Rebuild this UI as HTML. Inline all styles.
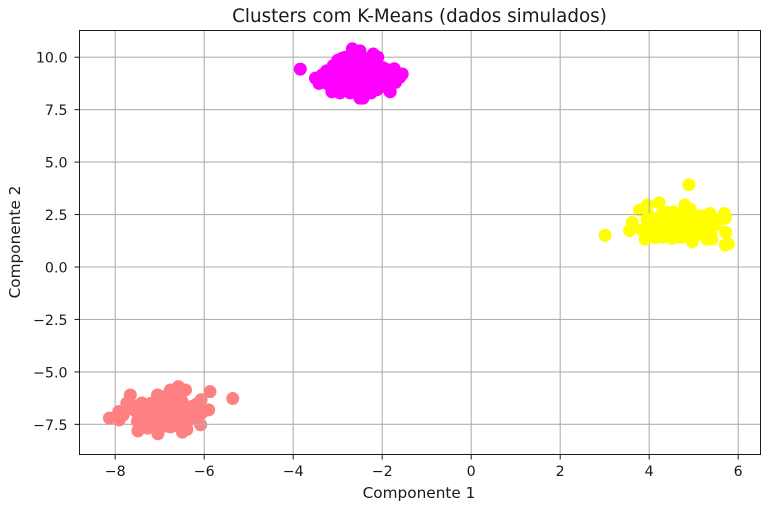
<!DOCTYPE html>
<html lang="pt">
<head>
<meta charset="utf-8">
<title>Clusters com K-Means</title>
<style>
html,body{margin:0;padding:0;background:#fff;width:770px;height:512px;overflow:hidden}
svg{display:block;font-family:"DejaVu Sans","Liberation Sans",sans-serif}
</style>
</head>
<body>
<svg id="chart" width="770" height="512" viewBox="0 0 770 512" xmlns="http://www.w3.org/2000/svg">
<rect width="770" height="512" fill="#fff"/>
<text x="419.5" y="22" font-size="18.3" text-anchor="middle" fill="#1a1a1a">Clusters com K-Means (dados simulados)</text>
<text x="419" y="498" font-size="15.3" text-anchor="middle" fill="#1a1a1a">Componente 1</text>
<text transform="translate(20 242) rotate(-90)" font-size="15.3" text-anchor="middle" fill="#1a1a1a">Componente 2</text>
<g id="under"></g>
<g id="grid"></g>
<g id="over"></g>
<g id="axes"></g>
</svg>
<script>
const xTicks = [-8, -6, -4, -2, 0, 2, 4, 6];
const yTicks = [-7.5, -5, -2.5, 0, 2.5, 5, 7.5, 10];
const xTickLabels = ['\u22128', '\u22126', '\u22124', '\u22122', '0', '2', '4', '6'];
const yTickLabels = ['\u22127.5', '\u22125.0', '\u22122.5', '0.0', '2.5', '5.0', '7.5', '10.0'];

const magentaX = [-3.84,-2.67,-2.5,-2.2,-2.1,-3.5,-3.35,-3.42,-3.13,-2.95,-2.72,-2.43,-2.5,-2.12,-1.82,-1.55,-1.6,-1.73,-1.7,-1.98,-3,-2.83,-3.1,-3.25,-2.9,-2.7,-2.5,-2.3,-2.1,-1.95,-3.05,-2.85,-2.65,-2.4,-2.2,-2.95,-2.75,-2.55,-2.35,-2.15,-1.9,-3.2,-2.8,-2.6,-2.3,-2.05,-2.9,-2.6,-2.4,-2.25,-2.0,-2.02,-2.08,-2.25,-2.62,-2.88,-3.05,-3.22,-2.45,-2.72,-1.85,-1.88,-2.2,-2.15,-2.35,-2.05,-2.3,-2.42,-2.18,-2.55,-2.1,-1.95,-2.5,-3.0,-2.8];
const magentaY = [9.43,10.4,10.3,10.15,10,9,9.15,8.75,8.35,8.3,8.3,8.05,8.05,8.45,8.35,9.2,9.05,9.45,8.8,9.5,9.85,10,9.6,9.35,9.6,9.7,9.8,9.65,9.55,9.1,9.15,9.2,9.3,9.25,9.2,8.75,8.8,8.85,8.7,8.9,8.75,8.9,8.5,8.55,8.45,8.65,9.95,10.02,9.95,9.9,9.28,8.92,8.6,8.3,8.6,8.55,8.62,8.72,8.38,8.95,9.15,9.4,9.0,8.75,8.95,9.0,8.6,8.5,8.5,8.3,8.8,8.6,9.45,9.0,9.45];

const yellowX = [3.78,3.96,3.98,4.22,3.56,3.62,3.84,3.91,3.01,4.89,4.13,4.51,4.65,4.97,5.3,5.41,5.72,5.71,5.78,5.69,5.71,5.52,5.36,4.8,4.92,4.54,4.39,4.28,5.15,4.2,4.35,4.5,4.7,4.85,5.05,5.25,5.4,4.25,4.45,4.65,4.85,5.05,5.2,5.35,4.1,4.3,4.55,4.75,4.95,5.1,4.6,4.05,4.15,4.4,4.58,4.72,4.9,5.0,5.18,5.32,5.48,5.55,4.22,4.38,4.62,4.82,5.02,5.28,4.12,4.3,4.0,3.95,4.18,4.32,4.48,4.68,4.78,4.98,5.12,5.22,5.38,4.42,4.88,5.08,4.08,5.42,4.52,4.72];
const yellowY = [2.71,2.95,2.48,3.06,1.73,2.13,1.76,1.32,1.51,3.92,1.4,1.37,1.43,1.2,1.33,1.33,1.65,1.05,1.1,2.55,2.32,2.24,2.55,2.95,2.76,2.63,2.59,2.48,2.44,2.25,2.3,2.35,2.4,2.2,2.3,2.25,2.15,1.9,1.95,2,1.95,1.9,1.85,1.8,1.7,1.6,1.65,1.55,1.6,1.55,2.5,2.05,2.12,2.12,2.22,2.1,2.4,2.12,2.1,2.02,1.98,2.2,1.75,1.82,1.78,1.72,1.74,1.62,1.95,1.42,1.6,2.25,1.52,1.98,1.55,1.85,2.25,1.88,2.0,1.78,1.58,2.18,1.48,1.72,2.3,1.92,2.1,1.42];

const pinkX = [-6.07,-6.08,-5.36,-5.87,-5.9,-6.28,-6.49,-6.39,-6.58,-6.76,-6.42,-6.91,-7.04,-7.49,-7.27,-7.66,-7.74,-7.92,-8.13,-7.91,-7.4,-7.2,-6.8,-7.05,-6.85,-6.65,-6.5,-7.3,-7.1,-6.9,-6.7,-6.55,-7.0,-6.75,-6.6,-7.35,-7.15,-6.95,-6.35,-6.2,-6.45,-7.25,-6.8,-6.15,-7.55,-6.65,-7.62,-7.48,-7.28,-7.42,-7.15,-6.98,-6.82,-6.62,-6.5,-6.72,-6.55,-6.42,-6.28,-6.12,-6.22,-6.4,-7.2,-7.0,-6.88,-6.7,-7.5,-7.82,-7.7,-6.95,-6.6,-7.38,-7.22,-7.05,-6.9,-6.75,-6.58,-6.45,-7.3,-7.12,-6.62,-6.52,-6.32,-6.18,-6.05,-7.44,-6.98,-6.85,-6.3,-7.58];
const pinkY = [-6.33,-7.52,-6.27,-5.94,-6.81,-6.65,-7.87,-7.74,-5.7,-5.86,-5.86,-6.18,-7.95,-7.81,-7.68,-6.1,-6.49,-6.89,-7.2,-7.29,-6.48,-6.5,-7.6,-6.1,-6.3,-6.25,-6.4,-6.95,-6.7,-6.6,-6.55,-6.8,-7.1,-7.0,-7.1,-7.25,-7.35,-7.4,-7.05,-6.9,-7.3,-6.75,-7.45,-6.6,-6.85,-7.55,-6.6,-7.0,-6.62,-6.82,-6.95,-6.82,-6.82,-6.85,-6.62,-6.22,-6.05,-7.2,-6.95,-6.75,-7.15,-7.5,-7.18,-7.3,-7.2,-7.28,-7.35,-7.05,-6.75,-6.5,-6.4,-7.1,-7.5,-7.55,-7.58,-7.62,-7.5,-7.45,-6.88,-6.6,-6.95,-7.15,-6.8,-6.55,-6.95,-6.55,-6.95,-6.45,-7.22,-6.7];

const plotLeft = 79.5, plotRight = 760.5, plotTop = 30.5, plotBottom = 454.5;
const NS = 'http://www.w3.org/2000/svg';

function xScale(v) { return 471.2 + v * 44.5; }
function yScale(v) { return 267 - v * 20.98; }

function make(tag, attrs, parent) {
  const el = document.createElementNS(NS, tag);
  for (const k in attrs) el.setAttribute(k, attrs[k]);
  parent.appendChild(el);
  return el;
}

const gridG = document.getElementById('grid');
const axesG = document.getElementById('axes');
const underG = document.getElementById('under');
const overG = document.getElementById('over');

xTicks.forEach(function (t, i) {
  const x = xScale(t);
  const g = make('line', {x1: x, x2: x, y1: plotTop, y2: plotBottom, stroke: '#b0b0b0', 'stroke-width': 1.1}, gridG);
  
  
  const tk = make('line', {x1: x, x2: x, y1: plotBottom, y2: plotBottom + 5, stroke: '#1a1a1a', 'stroke-width': 1}, axesG);
  
  
  const lb = make('text', {x: x, y: plotBottom + 21.5, 'font-size': 14.2, 'text-anchor': 'middle', fill: '#1a1a1a'}, axesG);
  
  
  lb.textContent = xTickLabels[i];
});

yTicks.forEach(function (t, i) {
  const y = yScale(t);
  const g = make('line', {x1: plotLeft, x2: plotRight, y1: y, y2: y, stroke: '#b0b0b0', 'stroke-width': 1.1}, gridG);
  
  
  const tk = make('line', {x1: plotLeft - 5, x2: plotLeft, y1: y, y2: y, stroke: '#1a1a1a', 'stroke-width': 1}, axesG);
  
  
  const lb = make('text', {x: plotLeft - 12, y: y + 5.5, 'font-size': 14.2, 'text-anchor': 'end', fill: '#1a1a1a'}, axesG);
  
  
  lb.textContent = yTickLabels[i];
});

const frame = make('rect', {x: plotLeft, y: plotTop, width: plotRight - plotLeft, height: plotBottom - plotTop, fill: 'none', stroke: '#1a1a1a', 'stroke-width': 1}, axesG);



function drawCluster(xs, ys, color, underCount) {
  xs.forEach(function (xv, i) {
    const parent = i < underCount ? underG : overG;
    const c = make('circle', {cx: xScale(xv), cy: yScale(ys[i]), r: 6.5, fill: color}, parent);
    
    
  });
}

drawCluster(magentaX, magentaY, '#ff00ff', 0);
drawCluster(yellowX, yellowY, '#ffff00', 6);
drawCluster(pinkX, pinkY, '#ff8080', 2);
</script>
</body>
</html>
